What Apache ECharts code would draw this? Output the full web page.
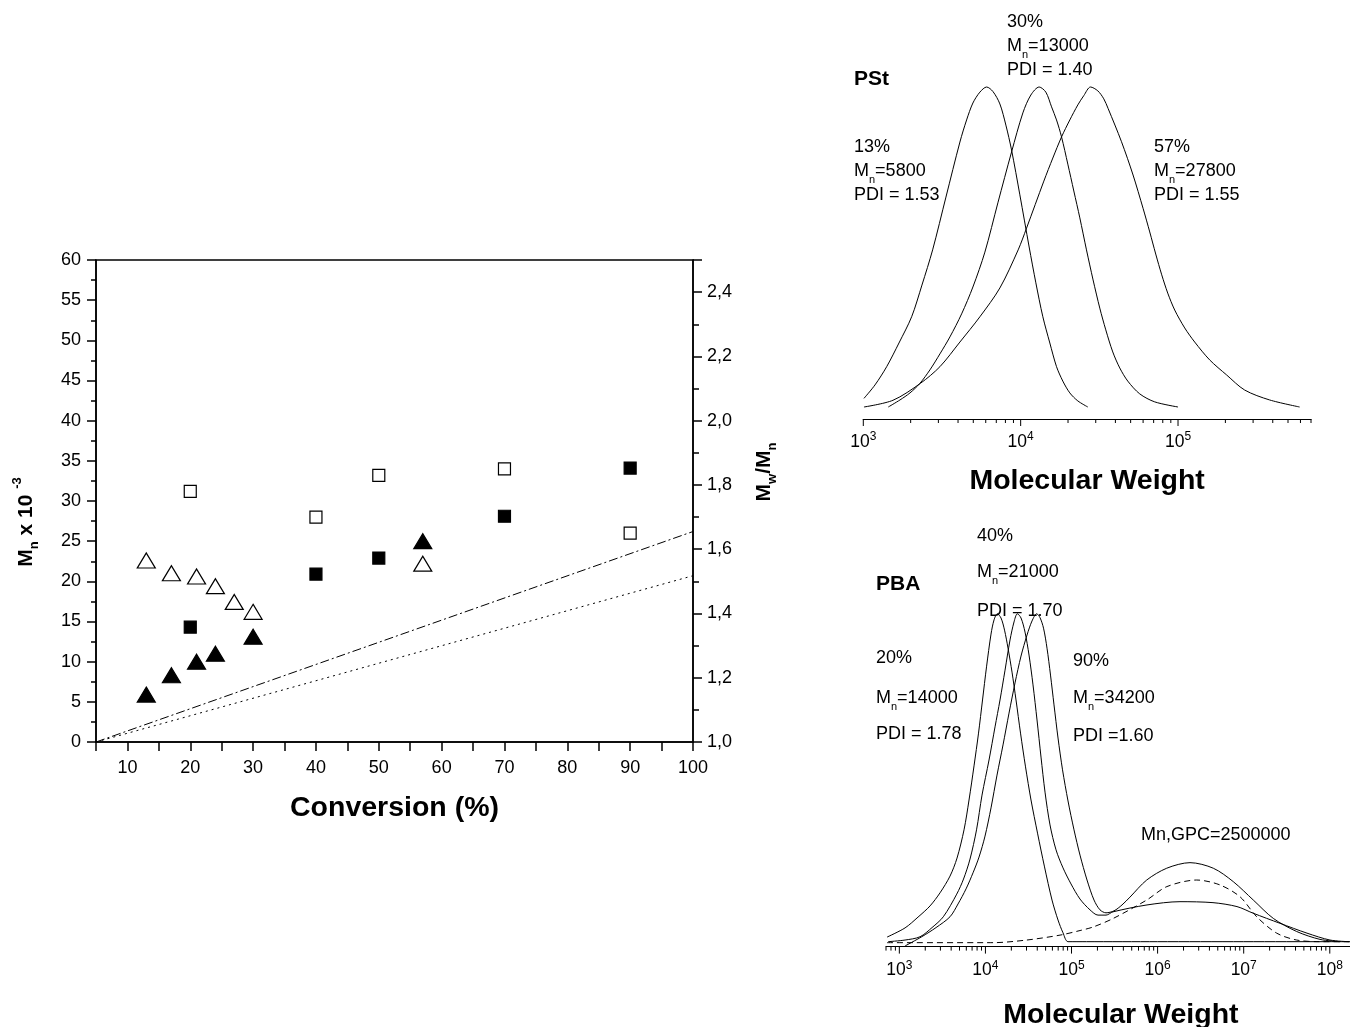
<!DOCTYPE html>
<html><head><meta charset="utf-8">
<script src="https://cdn.jsdelivr.net/npm/echarts@6/dist/echarts.min.js"></script>
<style>html,body{margin:0;padding:0;background:#fff}#c{width:1350px;height:1027px}</style>
</head><body><div id="c"></div>
<script>
// ---------- Left panel: Mn and PDI vs conversion ----------
const convPBA = [20, 40, 50, 70, 90];
const mnPBA = [14.3, 20.9, 22.9, 28.1, 34.1];          // filled squares (left axis)
const pdiPBA = [1.78, 1.70, 1.83, 1.85, 1.65];         // open squares (right axis)
const convPStMn = [13, 17, 21, 24, 30, 57];
const mnPSt = [5.9, 8.3, 10.0, 11.0, 13.1, 25.0];      // filled triangles (left axis)
const convPStPdi = [13, 17, 21, 24, 27, 30, 57];
const pdiPSt = [1.565, 1.525, 1.515, 1.485, 1.436, 1.405, 1.555]; // open triangles (right axis)
const theoryConv = [5, 100];
const theoryMnA = [0, 26.2];   // dash-dot
const theoryMnB = [0, 20.7];   // dotted

// ---------- PSt GPC traces ----------
const pst13M = [1010, 1187, 1408, 1685, 2029, 2359, 2758, 3351, 4111, 4534, 4972, 5508, 6075, 6662, 7379, 8054, 8754, 9883, 11324, 12490, 13836, 15325, 16903, 18530, 20530, 23080, 26713];
const pst13I = [0.027, 0.069, 0.126, 0.200, 0.282, 0.381, 0.491, 0.656, 0.828, 0.897, 0.950, 0.984, 1.0, 0.986, 0.947, 0.881, 0.803, 0.663, 0.500, 0.388, 0.282, 0.200, 0.126, 0.081, 0.044, 0.019, 0];
const pst30M = [1441, 1710, 1980, 2291, 2651, 3069, 3552, 4215, 4972, 5925, 7165, 8754, 10328, 11610, 13110, 14454, 15715, 16903, 18190, 19940, 21770, 23770, 26200, 28860, 31830, 34750, 38490, 42640, 47930, 57120, 71130, 100000];
const pst30I = [0, 0.022, 0.044, 0.074, 0.116, 0.166, 0.219, 0.291, 0.375, 0.484, 0.638, 0.797, 0.919, 0.975, 1.0, 0.984, 0.938, 0.897, 0.844, 0.759, 0.675, 0.591, 0.491, 0.397, 0.309, 0.241, 0.172, 0.122, 0.081, 0.041, 0.016, 0];
const pst57M = [1010, 1544, 2307, 3069, 4111, 5508, 7379, 9641, 10901, 14040, 16010, 18190, 20530, 23080, 25190, 27790, 30920, 33750, 35940, 43730, 51790, 59950, 66120, 72170, 78800, 86030, 95280, 110300, 127640, 159000, 203800, 265200, 382200, 592600];
const pst57I = [0, 0.021, 0.074, 0.126, 0.203, 0.282, 0.372, 0.491, 0.559, 0.706, 0.778, 0.844, 0.897, 0.944, 0.973, 1.0, 0.988, 0.963, 0.933, 0.829, 0.725, 0.621, 0.547, 0.478, 0.413, 0.356, 0.303, 0.247, 0.203, 0.147, 0.100, 0.053, 0.022, 0];

// ---------- PBA GPC traces ----------
const pba20M = [720, 1165, 1649, 2273, 2970, 3880, 4680, 5642, 6450, 7372, 8316, 9254, 10299, 11614, 12586, 13746, 15178, 16670, 18303, 20366, 22670, 25565, 29226, 33850, 40280, 48580, 59350, 69700, 79690, 91080, 150000, 1000000, 10000000, 100000000, 200000000];
const pba20I = [0.014, 0.042, 0.075, 0.109, 0.149, 0.200, 0.255, 0.341, 0.432, 0.536, 0.636, 0.737, 0.838, 0.938, 0.981, 1.0, 0.987, 0.950, 0.895, 0.822, 0.737, 0.636, 0.533, 0.432, 0.331, 0.228, 0.127, 0.066, 0.027, 0, 0, 0, 0, 0, 0];
const pba40M = [739, 1165, 1740, 2398, 3243, 4642, 5567, 6624, 7882, 9130, 11011, 12927, 14773, 16895, 19311, 21486, 23470, 25910, 28840, 32090, 35710, 39750, 44230, 49230, 56260, 66070, 79690, 98680, 125500, 164000, 203200, 251600, 303400, 753300, 1820000, 4399000, 8360000, 12820000, 26400000, 54350000, 100500000, 167100000];
const pba40I = [0, 0.005, 0.015, 0.043, 0.076, 0.145, 0.191, 0.252, 0.341, 0.447, 0.554, 0.655, 0.737, 0.828, 0.920, 0.975, 1.0, 0.987, 0.944, 0.874, 0.783, 0.676, 0.563, 0.456, 0.356, 0.280, 0.225, 0.176, 0.130, 0.097, 0.081, 0.081, 0.091, 0.112, 0.122, 0.119, 0.107, 0.087, 0.056, 0.026, 0.005, 0];
const pba90M = [1165, 1820, 2669, 3880, 4806, 5954, 7178, 8428, 9894, 11614, 13636, 16008, 18798, 22070, 25910, 30420, 34770, 39430, 43070, 47300, 51930, 57020, 62620, 69700, 78640, 91080, 106900, 125500, 151400, 182500, 214300, 251600, 311600, 385900, 478000, 747200, 1276000, 2379000, 4436000, 7572000, 12930000, 22070000, 41270000, 76950000, 131400000];
const pba90I = [-0.013, 0.015, 0.043, 0.076, 0.115, 0.161, 0.210, 0.258, 0.322, 0.408, 0.508, 0.600, 0.697, 0.789, 0.871, 0.935, 0.978, 1.0, 0.988, 0.956, 0.895, 0.813, 0.722, 0.621, 0.524, 0.429, 0.341, 0.264, 0.188, 0.127, 0.097, 0.088, 0.094, 0.112, 0.136, 0.188, 0.224, 0.241, 0.224, 0.183, 0.127, 0.071, 0.031, 0.007, 0];
const pbaHighM = [720, 12250, 30170, 73520, 125600, 179100, 305900, 747200, 1282000, 2845000, 5305000, 9057000, 14160000, 24170000, 41270000, 76950000, 200000000];
const pbaHighI = [-0.003, -0.003, 0.005, 0.020, 0.034, 0.045, 0.071, 0.127, 0.168, 0.188, 0.173, 0.137, 0.076, 0.026, 0.005, 0, 0];

// ---------- log-axis tick values ----------
const pstMajorTicks = [1000, 10000, 100000];
const pstMinorTicks = [2000, 3000, 4000, 5000, 6000, 7000, 8000, 9000, 20000, 30000, 40000, 50000, 60000, 70000, 80000, 90000, 200000, 300000, 400000, 500000, 600000, 700000];
const pbaMajorTicks = [1000, 10000, 100000, 1000000, 10000000, 100000000];
const pbaMinorTicks = [700, 800, 900, 2000, 3000, 4000, 5000, 6000, 7000, 8000, 9000, 20000, 30000, 40000, 50000, 60000, 70000, 80000, 90000, 200000, 300000, 400000, 500000, 600000, 700000, 800000, 900000, 2000000, 3000000, 4000000, 5000000, 6000000, 7000000, 8000000, 9000000, 20000000, 30000000, 40000000, 50000000, 60000000, 70000000, 80000000, 90000000];

const FONT = 'Liberation Sans';
const PST_YMIN = -0.0375, PBA_YMIN = -0.015;

function zip(a, b) { return a.map((v, i) => [v, b[i]]); }
function pow10Label(v) {
  const e = Math.log10(v), r = Math.round(e);
  return Math.abs(e - r) < 1e-6 ? '{b|10}{p|' + r + '}' : '';
}
const powRich = {
  b: { fontSize: 17.5, fontFamily: FONT, color: '#000', lineHeight: 22 },
  p: { fontSize: 12, fontFamily: FONT, color: '#000', lineHeight: 12, verticalAlign: 'top' }
};
function tickSeries(xi, yi, vals, ymin, len) {
  return {
    type: 'custom', xAxisIndex: xi, yAxisIndex: yi, silent: true, clip: false, z: 5,
    data: vals.map(v => [v, ymin]),
    renderItem: function (params, api) {
      const p = api.coord([api.value(0), api.value(1)]);
      return { type: 'line', shape: { x1: p[0], y1: p[1], x2: p[0], y2: p[1] + len },
               style: { stroke: '#000', lineWidth: 1 } };
    }
  };
}
function curve(xi, yi, m, v, dashed) {
  return { type: 'line', xAxisIndex: xi, yAxisIndex: yi, data: zip(m, v), showSymbol: false,
           smooth: 0.3, silent: true,
           lineStyle: { color: '#000', width: 1, type: dashed ? [6, 4] : 'solid' } };
}
function scatter(yi, x, y, sym, size, filled) {
  return { type: 'scatter', xAxisIndex: 0, yAxisIndex: yi, data: zip(x, y), symbol: sym,
           symbolSize: size, z: 10,
           itemStyle: { color: filled ? '#000' : '#fff', borderColor: '#000', borderWidth: 1.2, opacity: 1 } };
}

const TXT_RICH = {
  t: { fontSize: 18, fontFamily: FONT, color: '#000', lineHeight: 28 },
  s: { fontSize: 11, fontFamily: FONT, color: '#000', lineHeight: 12, verticalAlign: 'bottom' }
};
function txt(x, y, text, extra) {
  return Object.assign({ type: 'text', x: x, y: y, silent: true,
    style: Object.assign({ text: text, fill: '#000', fontFamily: FONT, fontSize: 18,
      align: 'left', verticalAlign: 'middle', textAlign: 'left', textVerticalAlign: 'middle',
      rich: TXT_RICH }, (extra && extra.style) || {}) }, (extra && extra.el) || {});
}
function mn(x, y, val) { return txt(x, y, '{t|M}{s|n}{t|=' + val + '}'); }
const boldLbl = { style: { fontWeight: 'bold', fontSize: 21 } };

const axisLineStyle = { color: '#000', width: 1.5 };
const titleStyle = { fontSize: 28.5, fontWeight: 'bold', fontFamily: FONT, color: '#000' };

const option = {
  animation: false,
  backgroundColor: '#fff',
  textStyle: { fontFamily: FONT, color: '#000' },
  grid: [
    { left: 96, right: 657, top: 260, bottom: 285, show: true, borderColor: '#000', borderWidth: 1.5,
      backgroundColor: 'transparent', containLabel: false, outerBoundsMode: 'none' },
    { left: 863.3, right: 39, top: 80.6, bottom: 608, containLabel: false, outerBoundsMode: 'none' },
    { left: 886, right: -5.7, top: 603.9, bottom: 80.4, containLabel: false, outerBoundsMode: 'none' }
  ],
  xAxis: [
    { type: 'value', gridIndex: 0, min: 5, max: 100, interval: 5,
      name: 'Conversion (%)', nameLocation: 'middle', nameGap: 52, nameTextStyle: titleStyle,
      axisLine: { show: true, onZero: false, lineStyle: axisLineStyle },
      axisTick: { show: true, length: 9, lineStyle: axisLineStyle },
      splitLine: { show: false },
      axisLabel: { fontSize: 18, color: '#000', fontFamily: FONT, margin: 17,
        formatter: v => (v % 10 === 0 ? String(v) : '') } },
    { type: 'log', gridIndex: 1, min: 1000, max: 700000, logBase: 10,
      name: 'Molecular Weight', nameLocation: 'middle', nameGap: 48, nameTextStyle: titleStyle,
      axisLine: { show: true, onZero: false, lineStyle: { color: '#000', width: 1.2 } },
      axisTick: { show: false }, splitLine: { show: false }, minorTick: { show: false },
      axisLabel: { margin: 12, formatter: pow10Label, rich: powRich, showMaxLabel: false } },
    { type: 'log', gridIndex: 2, min: 700, max: 200000000, logBase: 10,
      name: 'Molecular Weight', nameLocation: 'middle', nameGap: 54, nameTextStyle: titleStyle,
      axisLine: { show: true, onZero: false, lineStyle: { color: '#000', width: 1.2 } },
      axisTick: { show: false }, splitLine: { show: false }, minorTick: { show: false },
      axisLabel: { margin: 13, formatter: pow10Label, rich: powRich, showMinLabel: false, showMaxLabel: false } }
  ],
  yAxis: [
    { type: 'value', gridIndex: 0, min: 0, max: 60, interval: 5, position: 'left',
      axisLine: { show: true, lineStyle: axisLineStyle },
      axisTick: { show: true, length: 9, lineStyle: axisLineStyle },
      minorTick: { show: true, splitNumber: 2, length: 5, lineStyle: axisLineStyle },
      splitLine: { show: false }, minorSplitLine: { show: false },
      axisLabel: { fontSize: 18, color: '#000', fontFamily: FONT, margin: 15 } },
    { type: 'value', gridIndex: 0, min: 1.0, max: 2.5, interval: 0.2, position: 'right',
      axisLine: { show: true, lineStyle: axisLineStyle },
      axisTick: { show: true, length: 9, lineStyle: axisLineStyle },
      minorTick: { show: true, splitNumber: 2, length: 6, lineStyle: axisLineStyle },
      splitLine: { show: false }, minorSplitLine: { show: false },
      axisLabel: { fontSize: 18, color: '#000', fontFamily: FONT, margin: 14, showMaxLabel: false,
        formatter: v => v.toFixed(1).replace('.', ',') } },
    { type: 'value', gridIndex: 1, min: PST_YMIN, max: 1.02, show: false },
    { type: 'value', gridIndex: 2, min: PBA_YMIN, max: 1.03, show: false }
  ],
  series: [
    { type: 'line', xAxisIndex: 0, yAxisIndex: 0, data: zip(theoryConv, theoryMnA), showSymbol: false, silent: true,
      lineStyle: { color: '#000', width: 1, type: [9, 3, 2, 3] } },
    { type: 'line', xAxisIndex: 0, yAxisIndex: 0, data: zip(theoryConv, theoryMnB), showSymbol: false, silent: true,
      lineStyle: { color: '#000', width: 1, type: [2, 4] } },
    scatter(1, convPBA, pdiPBA, 'rect', 12, false),
    scatter(0, convPBA, mnPBA, 'rect', 12, true),
    scatter(1, convPStPdi, pdiPSt, 'triangle', [18, 15], false),
    scatter(0, convPStMn, mnPSt, 'triangle', [18, 15], true),

    curve(1, 2, pst13M, pst13I), curve(1, 2, pst30M, pst30I), curve(1, 2, pst57M, pst57I),
    tickSeries(1, 2, pstMajorTicks, PST_YMIN, 7), tickSeries(1, 2, pstMinorTicks, PST_YMIN, 4),

    curve(2, 3, pba20M, pba20I), curve(2, 3, pba40M, pba40I), curve(2, 3, pba90M, pba90I),
    curve(2, 3, pbaHighM, pbaHighI, true),
    tickSeries(2, 3, pbaMajorTicks, PBA_YMIN, 7), tickSeries(2, 3, pbaMinorTicks, PBA_YMIN, 4)
  ],
  graphic: [
    { type: 'text', x: 26, y: 522, rotation: Math.PI / 2, silent: true,
      style: { text: '{b|M}{s|n}{b| x 10 }{p|-3}', align: 'center', verticalAlign: 'middle',
        textAlign: 'center', textVerticalAlign: 'middle', fill: '#000',
        rich: { b: { fontSize: 21, fontWeight: 'bold', fontFamily: FONT, color: '#000', lineHeight: 30 },
                s: { fontSize: 13, fontWeight: 'bold', fontFamily: FONT, color: '#000', lineHeight: 14, verticalAlign: 'bottom' },
                p: { fontSize: 13, fontWeight: 'bold', fontFamily: FONT, color: '#000', lineHeight: 14, verticalAlign: 'top' } } } },
    { type: 'text', x: 764, y: 472, rotation: Math.PI / 2, silent: true,
      style: { text: '{b|M}{s|w}{b|/M}{s|n}', align: 'center', verticalAlign: 'middle',
        textAlign: 'center', textVerticalAlign: 'middle', fill: '#000',
        rich: { b: { fontSize: 21, fontWeight: 'bold', fontFamily: FONT, color: '#000', lineHeight: 30 },
                s: { fontSize: 13, fontWeight: 'bold', fontFamily: FONT, color: '#000', lineHeight: 14, verticalAlign: 'bottom' } } } },
    txt(854, 79, 'PSt', boldLbl),
    txt(1007, 22, '30%'), mn(1007, 46, '13000'), txt(1007, 70, 'PDI = 1.40'),
    txt(854, 147, '13%'), mn(854, 171, '5800'), txt(854, 195, 'PDI = 1.53'),
    txt(1154, 147, '57%'), mn(1154, 171, '27800'), txt(1154, 195, 'PDI = 1.55'),
    txt(876, 584, 'PBA', boldLbl),
    txt(977, 536, '40%'), mn(977, 572, '21000'), txt(977, 611, 'PDI = 1.70'),
    txt(876, 658, '20%'), mn(876, 698, '14000'), txt(876, 734, 'PDI = 1.78'),
    txt(1073, 661, '90%'), mn(1073, 698, '34200'), txt(1073, 736, 'PDI =1.60'),
    txt(1141, 835, 'Mn,GPC=2500000')
  ]
};
const chart = echarts.init(document.getElementById('c'));
chart.setOption(option);
</script>
</body></html>
